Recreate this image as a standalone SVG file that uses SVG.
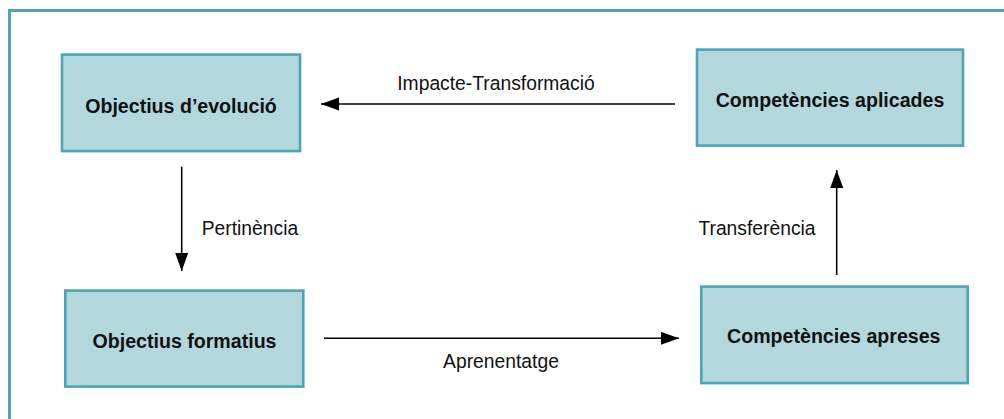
<svg xmlns="http://www.w3.org/2000/svg" width="1004" height="419" viewBox="0 0 1004 419">
<style>
.frame{fill:none;stroke:#4ba6b4;stroke-width:3}
.box{fill:#b2d8dd;stroke:#4ba6b4;stroke-width:2.6}
.nt{font-family:"Liberation Sans",Arial,sans-serif;font-weight:bold;font-size:19.6px;fill:#111;text-anchor:middle}
.lbl{font-family:"Liberation Sans",Arial,sans-serif;font-size:19.3px;fill:#111}
.conn{stroke:#000;stroke-width:1.6;fill:none;marker-end:url(#ah)}
</style>
<defs>
<marker id="ah" markerUnits="userSpaceOnUse" markerWidth="19" markerHeight="14" refX="18" refY="6.5" orient="auto">
<path d="M0,0 L18,6.5 L0,13 Z" fill="#000"/>
</marker>
</defs>
<rect width="1004" height="419" fill="#fff"/>
<rect class="frame" x="9.5" y="10.5" width="1010" height="420"/>
<g id="connectors">
<line class="conn" x1="675" y1="104" x2="321" y2="104"/>
<line class="conn" x1="181.7" y1="166.7" x2="181.7" y2="271"/>
<line class="conn" x1="836.7" y1="275" x2="836.7" y2="170"/>
<line class="conn" x1="324" y1="338.3" x2="679" y2="338.3"/>
<text class="lbl" x="496" y="90" text-anchor="middle">Impacte-Transformació</text>
<text class="lbl" x="201.7" y="235">Pertinència</text>
<text class="lbl" x="757" y="235" text-anchor="middle">Transferència</text>
<text class="lbl" x="501" y="368" text-anchor="middle">Aprenentatge</text>
</g>
<g id="n1">
<rect class="box" x="62" y="54.6" width="238" height="96.5"/>
<text class="nt" x="181" y="113">Objectius d’evolució</text>
</g>
<g id="n2">
<rect class="box" x="697" y="49.6" width="266" height="96"/>
<text class="nt" x="830" y="107">Competències aplicades</text>
</g>
<g id="n3">
<rect class="box" x="65.3" y="290.6" width="238" height="96"/>
<text class="nt" x="184.5" y="348">Objectius formatius</text>
</g>
<g id="n4">
<rect class="box" x="701.3" y="286.6" width="266.4" height="96.5"/>
<text class="nt" x="833.8" y="343.3">Competències apreses</text>
</g>
</svg>
